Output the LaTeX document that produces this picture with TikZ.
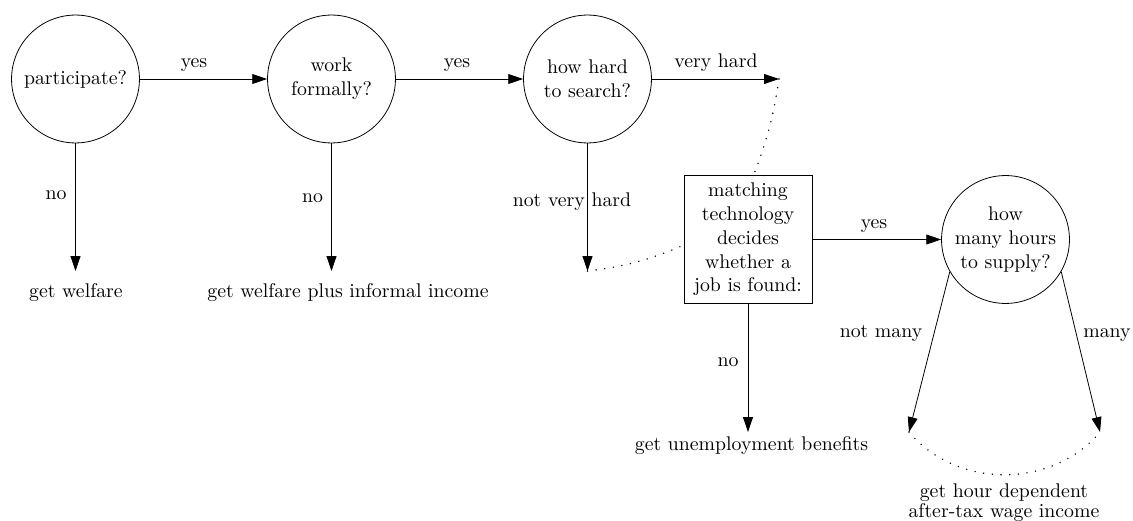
\documentclass[tikz,border=0pt]{standalone}
\usetikzlibrary{arrows.meta}
\begin{document}
\begin{tikzpicture}[x=0.5051pt,y=0.5051pt,
  dec/.style={draw,circle,minimum size=64.6pt,inner sep=0pt,align=center},
  boxnode/.style={draw,rectangle,minimum width=64.6pt,minimum height=64.6pt,inner sep=2pt,align=center},
  arr/.style={-{Triangle[length=7.5pt,width=5pt]}},
  dots/.style={line width=0.8pt,line cap=round,dash pattern=on 0pt off 4.4pt},
  lbl/.style={anchor=base,inner sep=0pt},
  outcome/.style={anchor=base,inner sep=0pt,align=center}]
\useasboundingbox (0,0) rectangle (1133,-521);
% decision nodes
\node[dec] (p) at (75.5,-79) {participate?};
\node[dec] (w) at (331.5,-79) {work\\formally?};
\node[dec] (h) at (587.5,-79) {how hard\\to search?};
\node[boxnode] (m) at (748,-239.5) {matching\\technology\\decides\\whether a\\job is found:};
\node[dec] (s) at (1005.5,-239.5) {how\\many hours\\to supply?};
% free ends
\coordinate (vh) at (779,-79);
\coordinate (nvh) at (587.5,-271);
\coordinate (gw) at (75.5,-271);
\coordinate (gwi) at (331.5,-271);
\coordinate (ub) at (748,-432);
\coordinate (nm) at (909,-432);
\coordinate (mn) at (1100,-432);
% connectors
\draw[arr] (p) -- (w);
\draw[arr] (w) -- (h);
\draw[arr] (h) -- (vh);
\draw[arr] (p) -- (gw);
\draw[arr] (w) -- (gwi);
\draw[arr] (h) -- (nvh);
\draw[arr] (m) -- (s);
\draw[arr] (m) -- (ub);
\draw[arr] (s.210) -- (nm);
\draw[arr] (s.-30) -- (mn);
\draw[dots] (vh) to[bend left=6] (m.85);
\draw[dots] (nvh) to[bend right=8] (m.185);
\draw[dots] (nm) to[bend right=50] (mn);
% labels
\node[lbl] (l1) at (194,-68) {yes};
\node[lbl] (l2) at (457,-68) {yes};
\node[lbl] (l3) at (716,-68) {very hard};
\node[lbl] (l4) at (874,-229) {yes};
\node[lbl] (l5) at (56,-200) {no};
\node[lbl] (l6) at (312.5,-203) {no};
\node[lbl] (l7) at (728,-367) {no};
\node[lbl] (l8) at (572,-207) {not very hard};
\node[lbl] (l9) at (881,-338) {not many};
\node[lbl] (l10) at (1107,-338) {many};
% outcomes
\node[outcome] (o1) at (76,-298) {get welfare};
\node[outcome] (o2) at (348,-298) {get welfare plus informal income};
\node[outcome] (o3) at (751.5,-451) {get unemployment benefits};
\node[anchor=north,inner sep=0pt,align=center] (o4) at (1004,-483.3) {get hour dependent\\[-2pt]after-tax wage income};
\end{tikzpicture}
\end{document}
